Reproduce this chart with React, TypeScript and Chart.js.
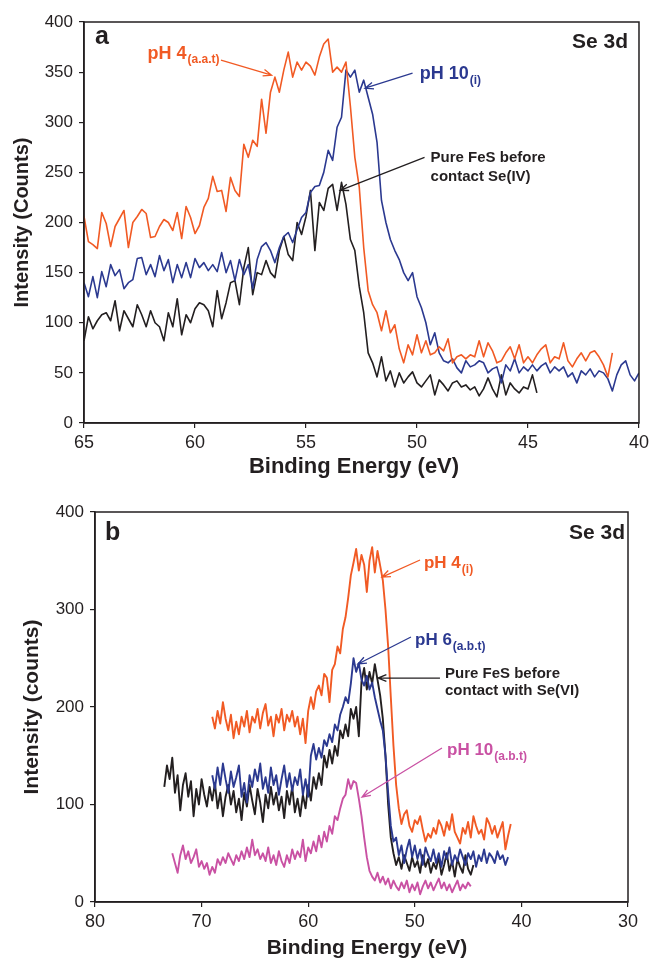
import React, { useEffect, useRef } from 'react';
import { Chart, registerables } from 'chart.js';
Chart.register(...registerables);

const FONT = '"Liberation Sans", Arial, Helvetica, sans-serif';
const INK = '#231f20';
const ORANGE = '#f15a24';
const BLUE = '#2b3990';
const MAGENTA = '#c951a3';

// ---------------- Panel a (Se 3d, Se(IV)) ----------------
const aXTicks = [65, 60, 55, 50, 45, 40];
const aYTicks = [0, 50, 100, 150, 200, 250, 300, 350, 400];
const aStepEV = 0.2;
const aOrangeStartEV = 65;
const aOrange = [
  206, 181, 178, 174, 210, 199, 176, 196, 204, 212,
  175, 200, 206, 213, 209, 185, 186, 196, 203, 200,
  192, 210, 184, 216, 205, 189, 197, 215, 224, 246,
  231, 232, 211, 245, 232, 226, 278, 265, 282, 276,
  323, 289, 330, 345, 330, 352, 370, 345, 360, 352,
  360, 356, 347, 365, 378, 383, 350, 355, 350, 360,
  316, 265, 235, 175, 132, 118, 110, 92, 112, 90,
  98, 74, 60, 78, 68, 88, 70, 82, 68, 70,
  76, 72, 84, 60, 66, 68, 64, 68, 66, 82,
  66, 80, 72, 60, 62, 70, 76, 64, 78, 60,
  66, 60, 68, 74, 78, 60, 66, 64, 80, 62,
  56, 64, 70, 62, 70, 72, 66, 58, 46, 70,
];
const aBlueStartEV = 65;
const aBlue = [
  140, 126, 146, 125, 151, 136, 158, 147, 153, 134,
  140, 143, 164, 165, 148, 158, 146, 167, 152, 163,
  140, 158, 145, 160, 145, 164, 155, 160, 152, 158,
  151, 170, 150, 162, 142, 163, 148, 158, 134, 163,
  176, 180, 172, 160, 175, 186, 190, 180, 193, 205,
  210, 230, 236, 237, 250, 272, 262, 295, 305, 352,
  345, 352, 330, 342, 325, 308, 280, 222, 200, 183,
  172, 163, 150, 142, 150, 126, 115, 100, 78, 90,
  70, 62, 60, 64, 55, 50, 62, 56, 58, 62,
  60, 50, 54, 56, 40, 58, 52, 64, 50, 56,
  52, 58, 52, 57, 60, 50, 56, 52, 56, 46,
  50, 40, 52, 48, 54, 46, 52, 50, 44, 32,
  48, 58, 62, 48, 42, 50,
];
const aBlackStartEV = 65;
const aBlack = [
  82, 106, 94, 102, 108, 110, 102, 122, 92, 112,
  104, 96, 118, 108, 96, 112, 100, 96, 82, 110,
  96, 124, 88, 108, 100, 114, 120, 118, 112, 96,
  132, 104, 120, 140, 142, 118, 155, 175, 128, 150,
  148, 162, 150, 145, 172, 186, 168, 162, 200, 188,
  206, 232, 172, 220, 212, 234, 238, 212, 240, 218,
  183, 172, 136, 110, 70, 60, 46, 66, 42, 52,
  36, 50, 40, 46, 51, 40, 36, 42, 48, 28,
  43, 38, 32, 40, 42, 36, 38, 33, 36, 27,
  34, 45, 34, 26, 48, 28, 40, 34, 30, 36,
  34, 48, 30,
];

// ---------------- Panel b (Se 3d, Se(VI)) ----------------
const bXTicks = [80, 70, 60, 50, 40, 30];
const bYTicks = [0, 100, 200, 300, 400];
const bStepEV = 0.25;
const bOrangeStartEV = 69;
const bOrange = [
  190, 178, 196, 183, 205, 188, 176, 192, 168, 185,
  172, 190, 180, 196, 174, 190, 184, 198, 178, 194,
  203, 181, 190, 170, 192, 184, 198, 176, 192, 185,
  196, 180, 190, 172, 188, 163, 196, 210, 198, 216,
  222, 212, 234, 230, 205, 238, 244, 262, 255, 280,
  292, 312, 335, 348, 362, 340, 356, 346, 318, 350,
  364, 338, 360, 345, 330, 300, 262, 210, 160, 120,
  96, 80, 90, 94, 78, 72, 84, 80, 88, 74,
  62, 70, 66, 76, 70, 84, 78, 68, 82, 74,
  90, 72, 66, 60, 76, 70, 82, 66, 88, 78,
  70, 74, 64, 86, 80, 70, 78, 66, 74, 82,
  54, 68, 80,
];
const bBlueStartEV = 69;
const bBlue = [
  130, 116, 138, 120, 142, 126, 112, 134, 118, 128,
  140, 108, 122, 102, 130, 118, 136, 124, 142, 116,
  128, 112, 138, 120, 130, 110, 126, 140, 118, 132,
  114, 128, 120, 136, 110, 126, 108, 150, 162, 146,
  158, 148, 166, 160, 172, 164, 182, 176, 192, 200,
  210, 204, 224, 250, 236, 245, 228, 222, 232, 218,
  225, 210, 198, 186, 176, 150, 112, 78, 62, 66,
  48, 58, 40, 54, 64, 46, 58, 44, 54, 38,
  56, 48, 42, 54, 40, 50, 36, 52, 44, 56,
  38, 48, 42, 54, 46, 38, 50, 44, 52, 36,
  48, 42, 54, 40, 50, 46, 40, 52, 44, 48,
  38, 46,
];
const bBlackStartEV = 73.5;
const bBlack = [
  118, 140, 126, 148, 112, 130, 94, 120, 132, 108,
  124, 88, 116, 100, 126, 110, 98, 118, 104, 122,
  96, 112, 88, 108, 120, 100, 114, 92, 106, 84,
  112, 98, 120, 104, 90, 116, 102, 82, 110, 96,
  118, 100, 112, 94, 108, 86, 114, 100, 118, 92,
  106, 88, 110, 96, 120, 104, 128, 116, 132, 120,
  150, 138, 156, 142, 160, 150, 176, 168, 182, 170,
  198, 188, 200, 170, 226, 240, 218, 236, 224, 244,
  228, 212, 188, 150, 100, 66, 50, 38, 46, 34,
  48, 40, 32, 46, 36, 42, 30, 48, 36, 44,
  30, 40, 34, 46, 28, 38, 50, 32, 42, 26,
  44, 36, 30, 48, 34, 28, 38,
];
const bMagentaStartEV = 72.75;
const bMagenta = [
  50, 40, 30, 48, 58, 44, 52, 40, 46, 54,
  36, 42, 34, 40, 28, 36, 30, 44, 38, 46,
  40, 50, 44, 38, 48, 42, 52, 44, 56, 46,
  64, 48, 54, 44, 50, 42, 56, 40, 48, 38,
  52, 42, 36, 48, 40, 54, 44, 52, 46, 64,
  42, 56, 50, 62, 52, 68, 56, 72, 62, 78,
  70, 88, 84, 96, 106, 110, 126, 116, 124, 122,
  106, 88, 66, 46, 32, 26, 22, 30, 20, 26,
  18, 24, 14, 22, 16, 12, 20, 14, 22, 10,
  18, 12, 20, 8, 16, 22, 14, 20, 12, 18,
  24, 14, 20, 12, 18, 10, 16, 22, 12, 18,
  14, 20, 16,
];

const toPoints = (start: number, step: number, vals: number[]) =>
  vals.map((v, i) => ({ x: +(start - i * step).toFixed(3), y: v }));

type Note = { x: number; y: number; text: string; color: string; size: number; sub?: string; subSize?: number; subDrop?: number; align?: 'left' | 'right' };
type Arrow = { x1: number; y1: number; x2: number; y2: number; color: string };
type Panel = {
  xMin: number; xMax: number; yMax: number;
  xTicks: number[]; yTicks: number[];
  padTop: number; padRight: number; yAxisW: number; xAxisH: number;
  yTitle: string; xTitle: string;
  yTitleX: number; xTitleX: number; xTitleY: number; yTitleSize: number; xTitleSize: number;
  lineWidth: number;
  notes: Note[]; arrows: Arrow[];
  series: { data: { x: number; y: number }[]; color: string }[];
};

const panelA: Panel = {
  xMin: 40, xMax: 65, yMax: 400, xTicks: aXTicks, yTicks: aYTicks,
  padTop: 22, padRight: 10, yAxisW: 84, xAxisH: 57,
  yTitle: 'Intensity (Counts)', xTitle: 'Binding Energy (eV)',
  yTitleX: 22, xTitleX: 354, xTitleY: 467, yTitleSize: 20, xTitleSize: 22,
  lineWidth: 1.6,
  notes: [
    { x: 64.51, y: 378, text: 'a', color: INK, size: 25 },
    { x: 40.49, y: 374, text: 'Se 3d', color: INK, size: 21, align: 'right' },
    { x: 62.14, y: 363, text: 'pH 4', sub: '(a.a.t)', subSize: 12, subDrop: 4, color: ORANGE, size: 18 },
    { x: 49.88, y: 343, text: 'pH 10', sub: '(i)', subSize: 12, subDrop: 5, color: BLUE, size: 18 },
    { x: 49.39, y: 260, text: 'Pure FeS before', color: INK, size: 15 },
    { x: 49.39, y: 241, text: 'contact Se(IV)', color: INK, size: 15 },
  ],
  arrows: [
    { x1: 58.83, y1: 362, x2: 56.55, y2: 347, color: ORANGE },
    { x1: 50.2, y1: 349, x2: 52.34, y2: 334, color: BLUE },
    { x1: 49.66, y1: 265, x2: 53.46, y2: 232, color: INK },
  ],
  series: [
    { data: toPoints(aOrangeStartEV, aStepEV, aOrange), color: ORANGE },
    { data: toPoints(aBlueStartEV, aStepEV, aBlue), color: BLUE },
    { data: toPoints(aBlackStartEV, aStepEV, aBlack), color: INK },
  ],
};

const panelB: Panel = {
  xMin: 30, xMax: 80, yMax: 400, xTicks: bXTicks, yTicks: bYTicks,
  padTop: 32, padRight: 25, yAxisW: 95, xAxisH: 58,
  yTitle: 'Intensity (counts)', xTitle: 'Binding Energy (eV)',
  yTitleX: 32, xTitleX: 367, xTitleY: 468, yTitleSize: 21, xTitleSize: 21,
  lineWidth: 1.9,
  notes: [
    { x: 79.06, y: 371, text: 'b', color: INK, size: 25 },
    { x: 30.28, y: 372, text: 'Se 3d', color: INK, size: 21, align: 'right' },
    { x: 49.14, y: 342.5, text: 'pH 4', sub: '(i)', subSize: 12, subDrop: 5, color: ORANGE, size: 17 },
    { x: 49.98, y: 263.6, text: 'pH 6', sub: '(a.b.t)', subSize: 12, subDrop: 5, color: BLUE, size: 17 },
    { x: 47.17, y: 229.7, text: 'Pure FeS before', color: INK, size: 15 },
    { x: 47.17, y: 212.3, text: 'contact with Se(VI)', color: INK, size: 15 },
    { x: 46.98, y: 150.8, text: 'pH 10', sub: '(a.b.t)', subSize: 12, subDrop: 5, color: MAGENTA, size: 17 },
  ],
  arrows: [
    { x1: 49.51, y1: 350.8, x2: 53.08, y2: 333.3, color: ORANGE },
    { x1: 50.36, y1: 271.8, x2: 55.33, y2: 244.1, color: BLUE },
    { x1: 47.64, y1: 229.7, x2: 53.45, y2: 229.7, color: INK },
    { x1: 47.45, y1: 157.9, x2: 54.95, y2: 107.7, color: MAGENTA },
  ],
  series: [
    { data: toPoints(bOrangeStartEV, bStepEV, bOrange), color: ORANGE },
    { data: toPoints(bBlueStartEV, bStepEV, bBlue), color: BLUE },
    { data: toPoints(bBlackStartEV, bStepEV, bBlack), color: INK },
    { data: toPoints(bMagentaStartEV, bStepEV, bMagenta), color: MAGENTA },
  ],
};

const decorPlugin = (p: Panel) => ({
  id: 'decor',
  afterDraw(chart: any) {
    const { ctx, chartArea: ca, scales } = chart;
    const xs = scales.x, ys = scales.y;
    ctx.save();
    ctx.strokeStyle = INK;
    ctx.lineWidth = 1.5;
    ctx.strokeRect(ca.left, ca.top, ca.right - ca.left, ca.bottom - ca.top);

    for (const n of p.notes) {
      const px = xs.getPixelForValue(n.x);
      const py = ys.getPixelForValue(n.y);
      ctx.fillStyle = n.color;
      ctx.font = `bold ${n.size}px ${FONT}`;
      ctx.textBaseline = 'alphabetic';
      ctx.textAlign = n.align || 'left';
      ctx.fillText(n.text, px, py);
      if (n.sub) {
        const w = ctx.measureText(n.text).width;
        ctx.font = `bold ${n.subSize}px ${FONT}`;
        ctx.textAlign = 'left';
        ctx.fillText(n.sub, px + w + 1, py + (n.subDrop || 4));
      }
    }

    for (const a of p.arrows) {
      const x1 = xs.getPixelForValue(a.x1), y1 = ys.getPixelForValue(a.y1);
      const x2 = xs.getPixelForValue(a.x2), y2 = ys.getPixelForValue(a.y2);
      const ang = Math.atan2(y2 - y1, x2 - x1);
      const L = 9, spread = 0.38;
      ctx.strokeStyle = a.color;
      ctx.lineWidth = 1.3;
      ctx.beginPath();
      ctx.moveTo(x1, y1);
      ctx.lineTo(x2, y2);
      ctx.moveTo(x2 - L * Math.cos(ang - spread), y2 - L * Math.sin(ang - spread));
      ctx.lineTo(x2, y2);
      ctx.lineTo(x2 - L * Math.cos(ang + spread), y2 - L * Math.sin(ang + spread));
      ctx.stroke();
    }

    ctx.fillStyle = INK;
    ctx.textAlign = 'center';
    ctx.textBaseline = 'middle';
    ctx.font = `bold ${p.xTitleSize}px ${FONT}`;
    ctx.fillText(p.xTitle, p.xTitleX, p.xTitleY);
    ctx.translate(p.yTitleX, (ca.top + ca.bottom) / 2);
    ctx.rotate(-Math.PI / 2);
    ctx.font = `bold ${p.yTitleSize}px ${FONT}`;
    ctx.fillText(p.yTitle, 0, 0);
    ctx.restore();
  },
});

function PanelChart({ panel }: { panel: Panel }) {
  const ref = useRef<HTMLCanvasElement | null>(null);
  useEffect(() => {
    if (!ref.current) return;
    const chart = new Chart(ref.current, {
      type: 'line',
      data: {
        datasets: panel.series.map((s) => ({
          data: s.data,
          borderColor: s.color,
          backgroundColor: s.color,
          borderWidth: panel.lineWidth,
          pointRadius: 0,
          tension: 0,
          fill: false,
          borderJoinStyle: 'round',
        })),
      },
      options: {
        responsive: false,
        animation: false,
        devicePixelRatio: 1,
        layout: { padding: { top: panel.padTop, right: panel.padRight, left: 0, bottom: 0 } },
        plugins: { legend: { display: false }, tooltip: { enabled: false }, title: { display: false } },
        scales: {
          x: {
            type: 'linear',
            reverse: true,
            min: panel.xMin,
            max: panel.xMax,
            afterFit: (s: any) => { s.height = panel.xAxisH; },
            afterBuildTicks: (s: any) => { s.ticks = panel.xTicks.map((v) => ({ value: v })); },
            grid: { drawOnChartArea: false, drawTicks: true, tickLength: 5, color: INK, lineWidth: 1.2 },
            border: { display: true, color: INK, width: 1.5 },
            ticks: { color: INK, font: { family: FONT, size: 18 }, padding: 4, maxRotation: 0, autoSkip: false, callback: (v: any) => String(v) },
          },
          y: {
            type: 'linear',
            min: 0,
            max: panel.yMax,
            afterFit: (s: any) => { s.width = panel.yAxisW; },
            afterBuildTicks: (s: any) => { s.ticks = panel.yTicks.map((v) => ({ value: v })); },
            grid: { drawOnChartArea: false, drawTicks: true, tickLength: 5, color: INK, lineWidth: 1.2 },
            border: { display: true, color: INK, width: 1.5 },
            ticks: { color: INK, font: { family: FONT, size: 17 }, padding: 6, autoSkip: false, callback: (v: any) => String(v) },
          },
        },
      },
      plugins: [decorPlugin(panel)],
    } as any);
    return () => chart.destroy();
  }, [panel]);
  return <canvas ref={ref} width={653} height={480} style={{ display: 'block', width: 653, height: 480 }} />;
}

export default function App() {
  return (
    <div style={{ position: 'absolute', left: 0, top: 0, width: 653, height: 960, background: '#ffffff' }}>
      <PanelChart panel={panelA} />
      <PanelChart panel={panelB} />
    </div>
  );
}
